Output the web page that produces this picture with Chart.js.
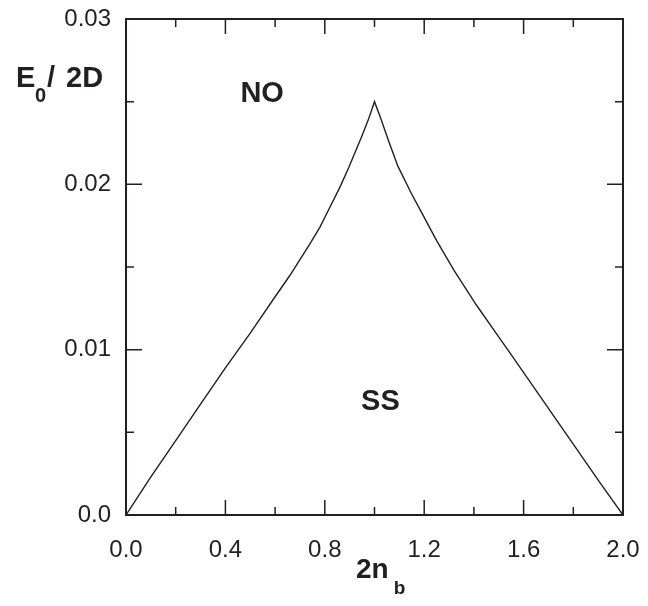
<!DOCTYPE html>
<html>
<head>
<meta charset="utf-8">
<script src="https://cdn.jsdelivr.net/npm/chart.js@4.4.0/dist/chart.umd.min.js"></script>
<style>
  html, body { margin: 0; padding: 0; background: #fff; }
  #wrap { width: 648px; height: 606px; }
</style>
</head>
<body>
<div id="wrap"><canvas id="phase"></canvas></div>
<script>
// phase boundary between NO and SS
const nbValues = [0, 0.10, 0.20, 0.30, 0.40, 0.50, 0.60, 0.66, 0.74, 0.78, 0.82, 0.86, 0.896, 0.946, 0.975, 1.0,
                  1.025, 1.055, 1.094, 1.15, 1.20, 1.25, 1.32, 1.41, 1.48, 1.55, 1.67, 1.79, 1.91, 2.0];
const energyValues = [0, 0.0023, 0.0045, 0.0067, 0.0089, 0.0110, 0.0132, 0.0145, 0.0164, 0.0174, 0.0186, 0.0198, 0.0210, 0.0228, 0.0239, 0.0250,
                      0.0240, 0.0227, 0.0211, 0.0194, 0.0180, 0.0166, 0.0148, 0.0127, 0.0112, 0.0097, 0.0071, 0.0045, 0.0019, 0];

const xTickValues = [0, 0.4, 0.8, 1.2, 1.6, 2.0];
const xTickLabels = ['0.0', '0.4', '0.8', '1.2', '1.6', '2.0'];
const xMinorTicks = [0.2, 0.6, 1.0, 1.4, 1.8];
const yTickValues = [0, 0.01, 0.02, 0.03];
const yTickLabels = ['0.0', '0.01', '0.02', '0.03'];
const yMinorTicks = [0.005, 0.015, 0.025];

const regionLabels = ['NO', 'SS'];
const regionX = [0.548, 1.024];
const regionY = [0.02498, 0.00635];

const ink = '#231f20';
const fontFamily = '"Liberation Sans", Arial, sans-serif';

const points = [];
for (let i = 0; i < nbValues.length; i++) {
  points.push({ x: nbValues[i], y: energyValues[i] });
}

const framePlugin = {
  id: 'frame',
  afterDraw(chart) {
    const ctx = chart.ctx;
    const a = chart.chartArea;
    const xs = chart.scales.x;
    const ys = chart.scales.y;
    ctx.save();
    ctx.strokeStyle = ink;
    ctx.lineWidth = 2;
    ctx.strokeRect(a.left, a.top, a.right - a.left, a.bottom - a.top);

    // inward ticks on all four sides
    ctx.lineWidth = 1.5;
    ctx.beginPath();
    const xTick = (v, len) => {
      const p = xs.getPixelForValue(v);
      ctx.moveTo(p, a.bottom); ctx.lineTo(p, a.bottom - len);
      ctx.moveTo(p, a.top); ctx.lineTo(p, a.top + len);
    };
    const yTick = (v, len) => {
      const p = ys.getPixelForValue(v);
      ctx.moveTo(a.left, p); ctx.lineTo(a.left + len, p);
      ctx.moveTo(a.right, p); ctx.lineTo(a.right - len, p);
    };
    xTickValues.slice(1, -1).forEach(v => xTick(v, 15));
    xMinorTicks.forEach(v => xTick(v, 8));
    yTickValues.slice(1, -1).forEach(v => yTick(v, 16));
    yMinorTicks.forEach(v => yTick(v, 8));
    ctx.stroke();

    // region labels
    ctx.fillStyle = ink;
    ctx.font = 'bold 29px ' + fontFamily;
    ctx.textAlign = 'center';
    ctx.textBaseline = 'alphabetic';
    for (let i = 0; i < regionLabels.length; i++) {
      ctx.fillText(regionLabels[i], xs.getPixelForValue(regionX[i]), ys.getPixelForValue(regionY[i]));
    }

    // y axis title: E0 / 2D, written level at the top left
    ctx.textAlign = 'left';
    ctx.font = 'bold 29px ' + fontFamily;
    ctx.fillText('E', 16, 87);
    ctx.font = 'bold 20px ' + fontFamily;
    ctx.fillText('0', 35, 102);
    ctx.font = 'bold 29px ' + fontFamily;
    ctx.fillText('/', 47, 87);
    ctx.fillText('2D', 66, 87);

    // x axis title: 2n_b
    ctx.font = 'bold 28px ' + fontFamily;
    ctx.fillText('2n', 356, 578);
    const w1 = ctx.measureText('2n').width;
    ctx.font = 'bold 19px ' + fontFamily;
    ctx.fillText('b', 356 + w1 + 5, 594);
    ctx.restore();
  }
};

new Chart(document.getElementById('phase').getContext('2d'), {
  type: 'scatter',
  data: {
    datasets: [{
      data: points,
      showLine: true,
      borderColor: ink,
      borderWidth: 1.4,
      pointRadius: 0,
      tension: 0,
      fill: false
    }]
  },
  options: {
    responsive: true,
    maintainAspectRatio: false,
    animation: false,
    layout: { padding: { top: 19, right: 25, left: 0, bottom: 0 } },
    plugins: {
      legend: { display: false },
      tooltip: { enabled: false }
    },
    scales: {
      x: {
        type: 'linear',
        min: 0,
        max: 2,
        afterBuildTicks: (scale) => { scale.ticks = xTickValues.map(v => ({ value: v })); },
        afterFit: (scale) => {
          scale.height = 91;
          scale.paddingLeft = 0; scale.paddingRight = 0;
        },
        grid: { display: false, drawTicks: false },
        border: { display: false },
        ticks: {
          padding: 21,
          color: ink,
          font: { family: fontFamily, size: 24 },
          maxRotation: 0,
          callback: (value) => xTickLabels[xTickValues.indexOf(value)]
        }
      },
      y: {
        type: 'linear',
        min: 0,
        max: 0.03,
        afterBuildTicks: (scale) => { scale.ticks = yTickValues.map(v => ({ value: v })); },
        afterFit: (scale) => {
          scale.width = 126;
          scale.paddingTop = 0; scale.paddingBottom = 0;
        },
        grid: { display: false, drawTicks: false },
        border: { display: false },
        ticks: {
          padding: 15,
          color: ink,
          font: { family: fontFamily, size: 24 },
          callback: (value) => yTickLabels[yTickValues.indexOf(value)]
        }
      }
    }
  },
  plugins: [framePlugin]
});
</script>
</body>
</html>
